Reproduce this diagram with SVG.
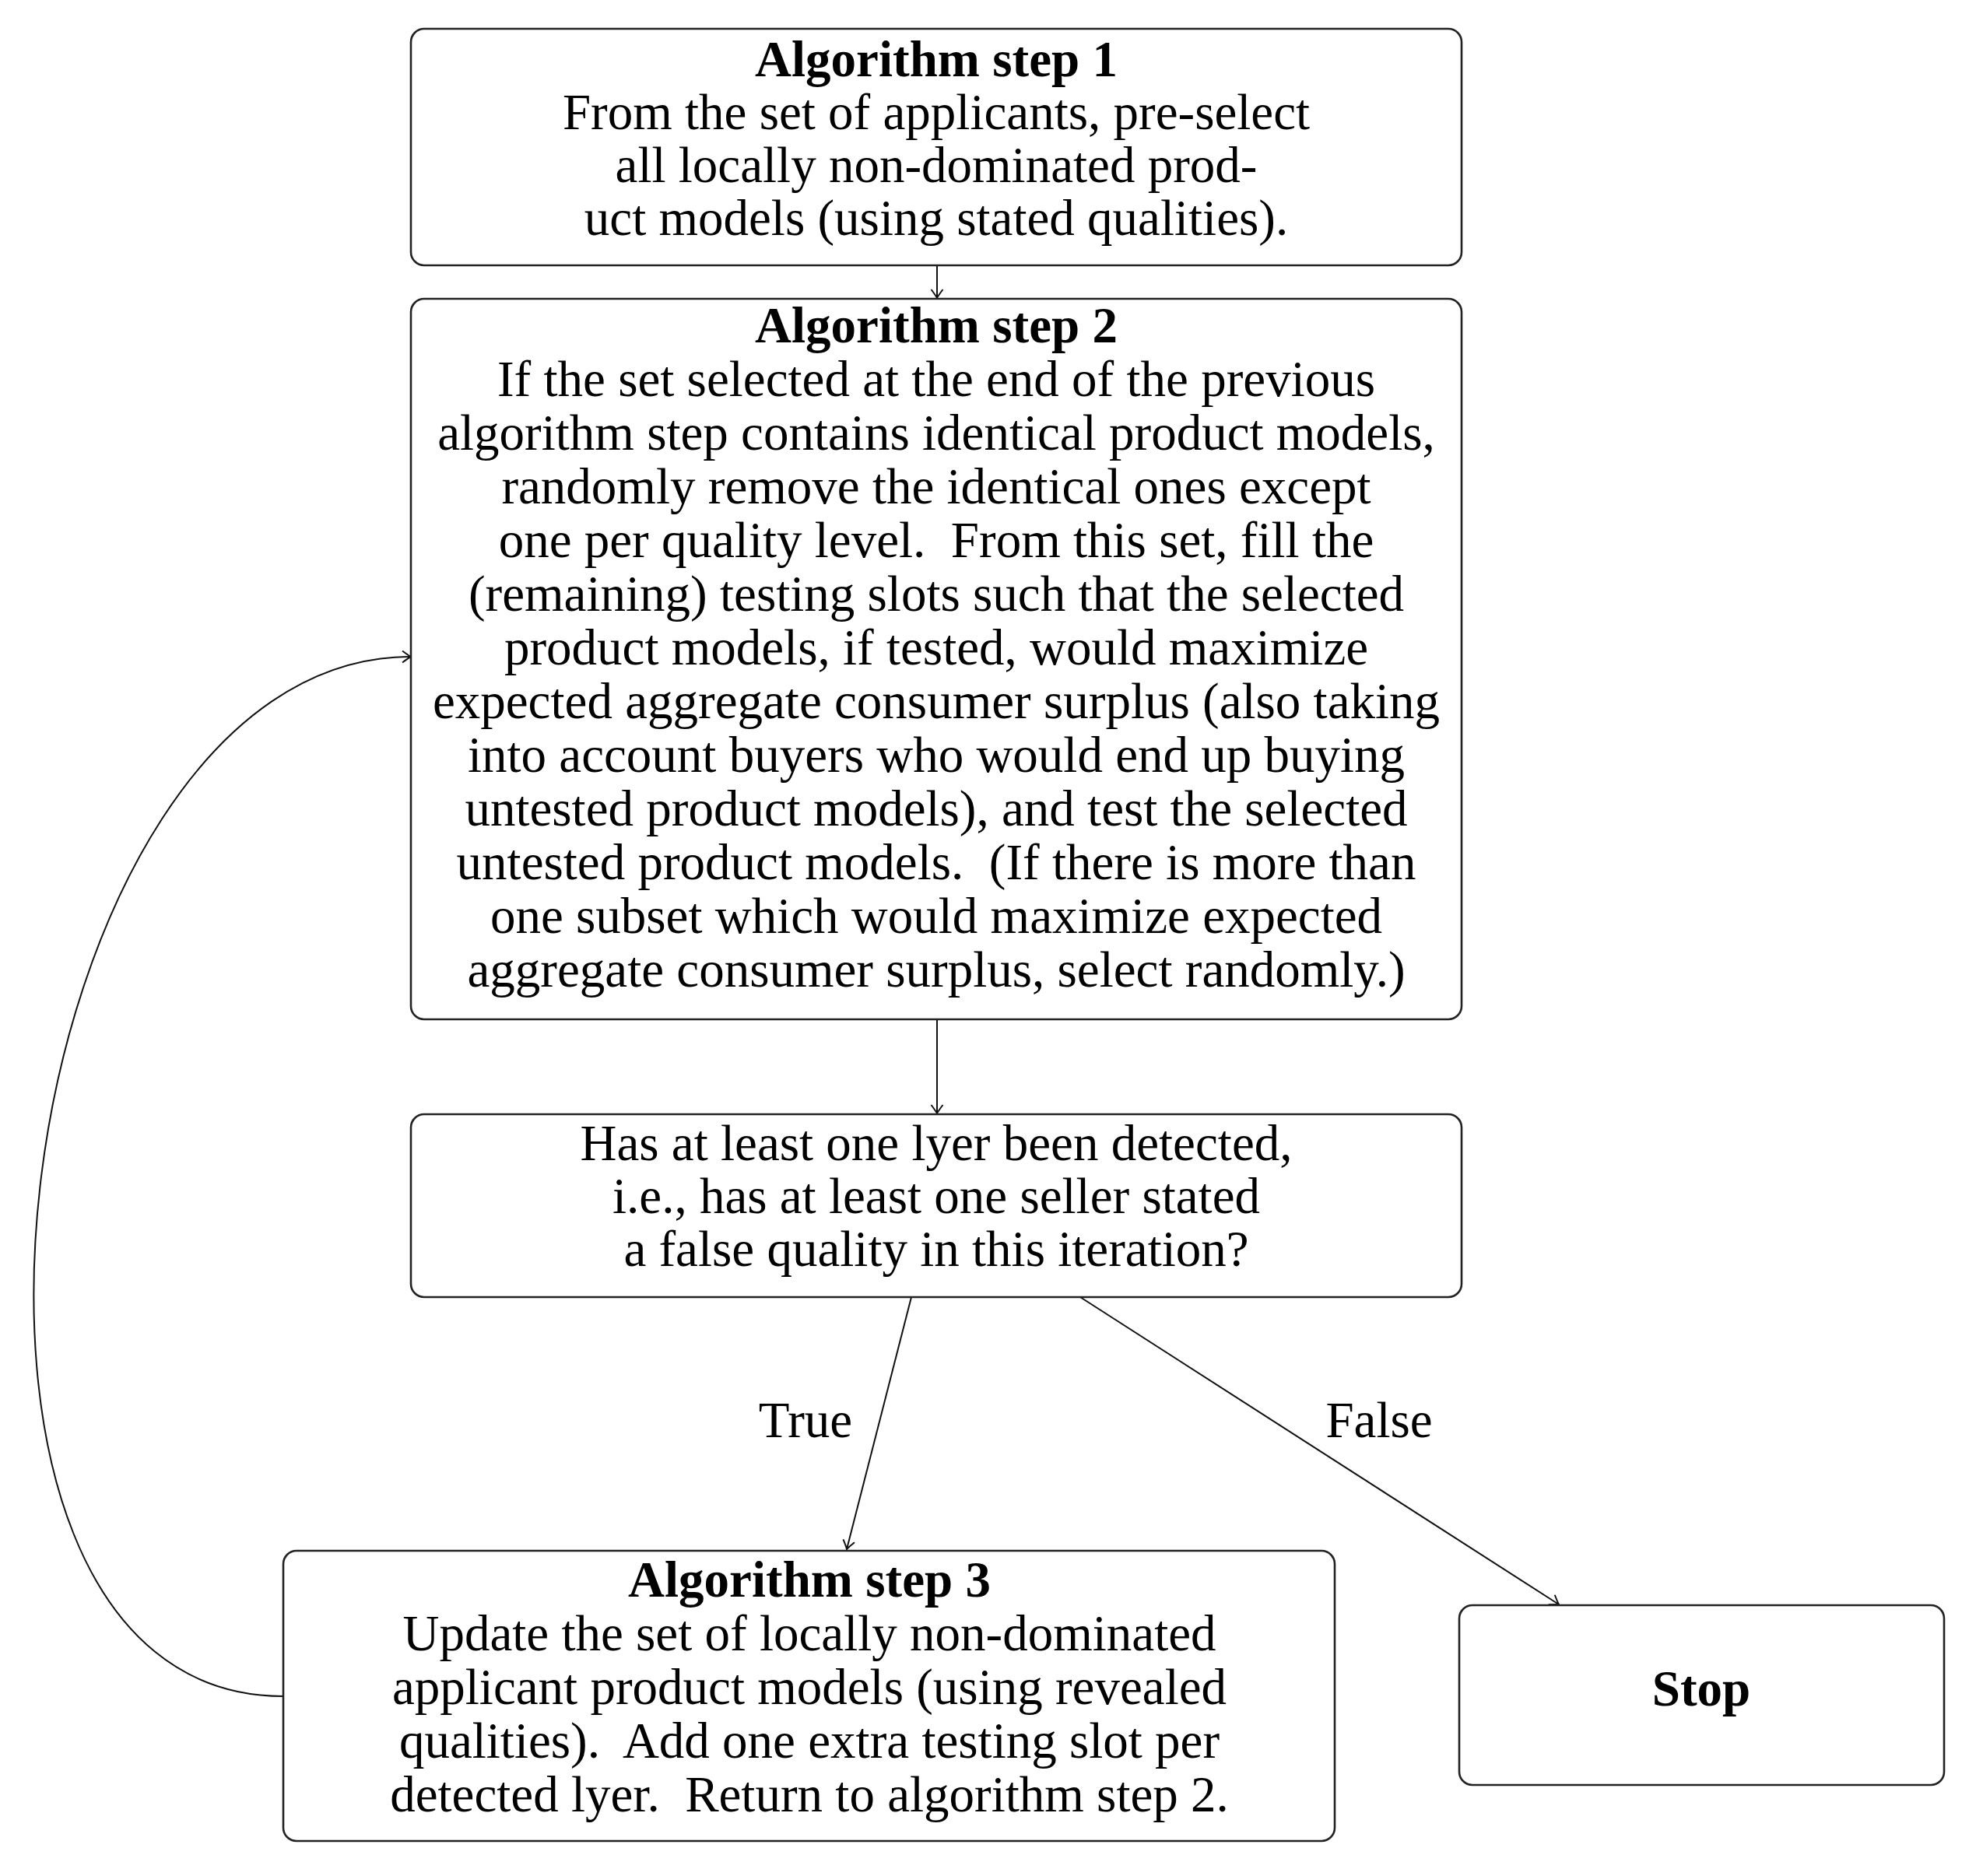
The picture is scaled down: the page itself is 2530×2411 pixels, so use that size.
<svg xmlns="http://www.w3.org/2000/svg" width="2530" height="2411" viewBox="0 0 2530 2411">
<style>
  .box { fill: #ffffff; stroke: #222222; stroke-width: 2.6; }
  .t { font-family: "Liberation Serif", "Times New Roman", serif; font-size: 65px; fill: #000000; text-anchor: middle; white-space: pre; }
  .b { font-weight: bold; }
  .edge { fill: none; stroke: #111111; stroke-width: 2; }
</style>
<defs>
  <marker id="arr" markerUnits="userSpaceOnUse" markerWidth="30" markerHeight="30" viewBox="-15 -15 30 30" refX="0" refY="0" orient="auto">
    <path d="M -11 -7.5 Q -3 -1.5 0 0 Q -3 1.5 -11 7.5" fill="none" stroke="#111111" stroke-width="2"/>
  </marker>
</defs>
<rect width="2530" height="2411" fill="#ffffff"/>

<g id="connectors">
  <line class="edge" x1="1204" y1="341" x2="1204" y2="383" marker-end="url(#arr)"/>
  <line class="edge" x1="1204" y1="1310" x2="1204" y2="1431" marker-end="url(#arr)"/>
  <line class="edge" x1="1171" y1="1667" x2="1088" y2="1991" marker-end="url(#arr)"/>
  <line class="edge" x1="1388" y1="1667" x2="2003" y2="2062" marker-end="url(#arr)"/>
  <path class="edge" d="M 364 2180 C -161 2180, 5 844, 528 844" marker-end="url(#arr)"/>
  <text class="t" x="1035" y="1847">True</text>
  <text class="t" x="1772" y="1847">False</text>
</g>

<g id="step1">
  <rect class="box" x="528" y="37" width="1350" height="304" rx="17"/>
  <text class="t b" x="1203" y="98">Algorithm step 1</text>
  <text class="t" x="1203" y="166">From the set of applicants, pre-select</text>
  <text class="t" x="1203" y="234">all locally non-dominated prod-</text>
  <text class="t" x="1203" y="302">uct models (using stated qualities).</text>
</g>

<g id="step2">
  <rect class="box" x="528" y="384" width="1350" height="926" rx="17"/>
  <text class="t b" x="1203" y="440">Algorithm step 2</text>
  <text class="t" x="1203" y="509">If the set selected at the end of the previous</text>
  <text class="t" x="1203" y="578">algorithm step contains identical product models,</text>
  <text class="t" x="1203" y="647">randomly remove the identical ones except</text>
  <text class="t" x="1203" y="716">one per quality level.  From this set, fill the</text>
  <text class="t" x="1203" y="785">(remaining) testing slots such that the selected</text>
  <text class="t" x="1203" y="854">product models, if tested, would maximize</text>
  <text class="t" x="1203" y="923">expected aggregate consumer surplus (also taking</text>
  <text class="t" x="1203" y="992">into account buyers who would end up buying</text>
  <text class="t" x="1203" y="1061">untested product models), and test the selected</text>
  <text class="t" x="1203" y="1130">untested product models.  (If there is more than</text>
  <text class="t" x="1203" y="1199">one subset which would maximize expected</text>
  <text class="t" x="1203" y="1268">aggregate consumer surplus, select randomly.)</text>
</g>

<g id="decision">
  <rect class="box" x="528" y="1432" width="1350" height="235" rx="17"/>
  <text class="t" x="1203" y="1491">Has at least one lyer been detected,</text>
  <text class="t" x="1203" y="1559">i.e., has at least one seller stated</text>
  <text class="t" x="1203" y="1627">a false quality in this iteration?</text>
</g>

<g id="step3">
  <rect class="box" x="364" y="1993" width="1351" height="373" rx="17"/>
  <text class="t b" x="1040" y="2052">Algorithm step 3</text>
  <text class="t" x="1040" y="2121">Update the set of locally non-dominated</text>
  <text class="t" x="1040" y="2190">applicant product models (using revealed</text>
  <text class="t" x="1040" y="2259">qualities).  Add one extra testing slot per</text>
  <text class="t" x="1040" y="2328">detected lyer.  Return to algorithm step 2.</text>
</g>

<g id="stop">
  <rect class="box" x="1875" y="2063" width="623" height="231" rx="17"/>
  <text class="t b" x="2186" y="2192">Stop</text>
</g>
</svg>
